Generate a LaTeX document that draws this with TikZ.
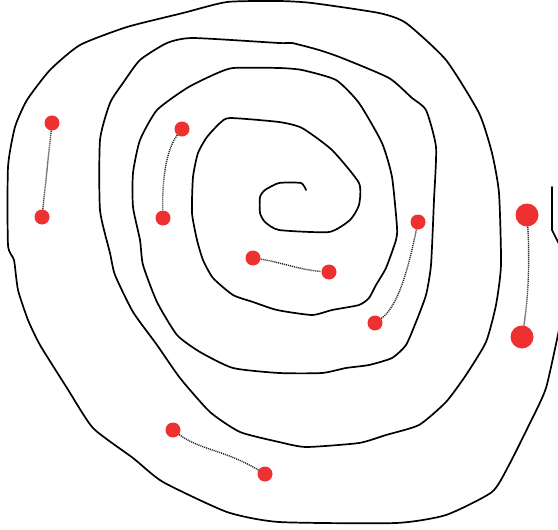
\documentclass[tikz,border=0pt]{standalone}
\definecolor{dotred}{HTML}{EE3030}
\tikzset{
  spiral/.style={line width=1.7pt, black, line join=round, line cap=round},
  dot/.style={circle, fill=dotred, draw=none, minimum size=15pt, inner sep=0pt},
  bigdot/.style={dot, minimum size=23pt},
  conn/.style={dash pattern=on 1.1pt off 0.9pt, line width=1.4pt, black!85}
}
\begin{document}
\begin{tikzpicture}[x=1pt,y=-1pt]
\useasboundingbox (0,0) rectangle (558,530);
\begin{scope}
\clip (0,0) rectangle (558,530);
\draw[spiral] plot[smooth, tension=0.35] coordinates {
(306,190) (301,183) (279,183) (265,190) (260,197) (260,213) (265,222) (279,230) (329,232) (350,220) (359,205) (359,183) (332,150) (302,128) (279,122) (230,118) (220,123) (207,137) (198,153) (193,177) (192,213) (197,240) (203,260) (213,278) (233,295) (253,302) (277,310) (312,315) (332,310) (359,305) (369,298) (376,285) (386,268) (396,240) (397,227) (392,177) (382,143) (359,103) (336,80) (302,70) (279,68) (233,68) (213,75) (187,88) (157,110) (140,140) (133,173) (133,207) (140,240) (143,265) (157,302) (177,335) (200,352) (233,368) (279,373) (322,373) (346,368) (369,365) (392,358) (406,345) (416,322) (426,295) (431,265) (434,200) (436,147) (426,110) (412,98) (389,78) (342,58) (319,50) (292,43) (279,43) (193,38) (167,43) (140,60) (123,83) (110,103) (100,140) (100,210) (110,253) (115,275) (133,312) (157,345) (180,378) (210,412) (240,432) (279,442) (306,447) (359,443) (386,435) (419,425) (446,402) (466,375) (486,342) (496,305) (501,265) (499,193) (492,153) (479,113) (446,60) (406,23) (379,13) (312,3) (279,1) (227,2) (183,13) (127,27) (80,45) (50,70) (27,100) (15,127) (8,167) (8,245) (14,260) (18,290) (28,320) (40,345) (67,388) (93,428) (133,458) (163,482) (227,512) (279,522) (396,523) (446,515) (492,492) (509,465) (529,425) (546,388) (560,325)};
\draw[spiral] (552,187) -- (552,230) -- (560,246);
\end{scope}
\node[dot] (a1) at (52,123) {};
\node[dot] (a2) at (42,217) {};
\node[dot] (b1) at (182,129) {};
\node[dot] (b2) at (163,218) {};
\node[dot] (c1) at (253,258) {};
\node[dot] (c2) at (329,272) {};
\node[dot] (d1) at (418,222) {};
\node[dot] (d2) at (375,323) {};
\node[bigdot] (e1) at (527,215) {};
\node[bigdot] (e2) at (522,337) {};
\node[dot] (f1) at (173,430) {};
\node[dot] (f2) at (265,474) {};
\draw[conn] (a1) -- (a2);
\draw[conn] (b1) .. controls (166,150) and (162,180) .. (b2);
\draw[conn] (c1) .. controls (280,262) and (300,270) .. (c2);
\draw[conn] (d1) .. controls (410,260) and (400,305) .. (d2);
\draw[conn] (e1) .. controls (530,260) and (528,300) .. (e2);
\draw[conn] (f1) .. controls (200,450) and (225,450) .. (f2);
\end{tikzpicture}
\end{document}
